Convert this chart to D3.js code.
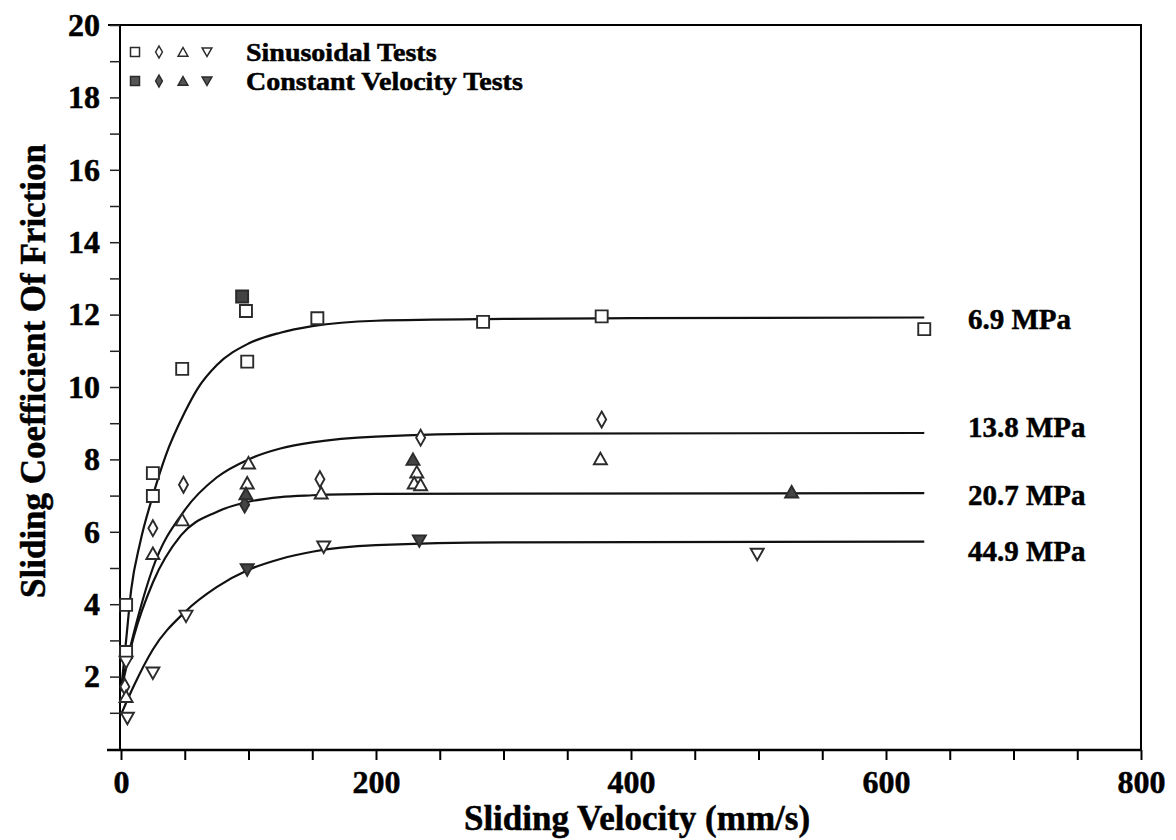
<!DOCTYPE html>
<html>
<head>
<meta charset="utf-8">
<script src="https://cdn.jsdelivr.net/npm/d3@7"></script>
<style>
  body { margin: 0; background: #fff; }
  text { font-family: "Liberation Serif", "Times New Roman", serif; font-weight: bold; fill: #000; stroke: #000; stroke-width: 0.5px; }
</style>
</head>
<body>
<svg id="chart" width="1176" height="840"></svg>
<script>
// fitted curves as [velocity, friction]
var curve69 = [[0,1.6],[4,3.0],[8,4.4],[15,5.7],[25,7.0],[35,8.1],[50,9.3],[60,9.95],[75,10.6],[100,11.2],[125,11.5],[150,11.68],[200,11.83],[300,11.88],[400,11.9],[630,11.92]];
var curve138 = [[0,1.7],[10,3.2],[25,5.0],[50,6.6],[75,7.5],[100,8.0],[125,8.3],[150,8.47],[200,8.63],[300,8.71],[630,8.73]];
var curve207 = [[0,1.6],[10,3.1],[25,4.6],[47,5.9],[75,6.55],[100,6.83],[125,6.96],[150,7.01],[200,7.05],[630,7.07]];
var curve449 = [[0,0.95],[10,1.74],[25,2.75],[50,3.78],[75,4.47],[100,4.95],[125,5.25],[150,5.45],[200,5.63],[300,5.71],[630,5.73]];
var curves = [curve69, curve138, curve207, curve449];
var pressureLabels = ["6.9 MPa", "13.8 MPa", "20.7 MPa", "44.9 MPa"];

// sinusoidal tests (open symbols)
var sinSquare = [[4,3.98],[4,2.68],[25,7.62],[25,6.99],[48,10.5],[98,12.1],[99,10.7],[154,11.9],[284,11.8],[377,11.95],[630,11.6]];
var sinDiamond = [[3,1.72],[25,6.1],[49,7.3],[156,7.45],[235,8.6],[377,9.1]];
var sinTriUp = [[4,1.45],[25,5.4],[48,6.33],[100,7.9],[99,7.35],[157,7.07],[232,7.65],[230,7.35],[235,7.3],[376,8.02]];
var sinTriDown = [[4,2.4],[5,0.85],[25,2.1],[51,3.67],[159,5.58],[499,5.38]];

// constant velocity tests (filled symbols)
var cvSquare = [[95,12.5]];
var cvDiamond = [[97,6.75]];
var cvTriUp = [[98,7.05],[229,8.0],[526,7.1]];
var cvTriDown = [[99,4.95],[234,5.75]];

var xTicks = [0, 200, 400, 600, 800];
var yTicks = [2, 4, 6, 8, 10, 12, 14, 16, 18, 20];
var legendLabels = ["Sinusoidal Tests", "Constant Velocity Tests"];

var svg = d3.select("#chart");
var x = d3.scaleLinear().domain([0, 800]).range([121, 1141]);
var y = d3.scaleLinear().domain([0, 20]).range([749, 25]);

var ink = "#2b2b2b";

// marker paths, centred on 0,0
var shapes = {
  square: "M-6,-6H6V6H-6Z",
  diamond: "M0,-8L4.5,0L0,8L-4.5,0Z",
  up: "M0,-6L6.5,5.5H-6.5Z",
  down: "M0,6L6.5,-5.5H-6.5Z"
};

// frame: top and right edges
svg.append("path")
  .attr("d", "M108,25H1141V750")
  .attr("fill", "none")
  .attr("stroke", "#000")
  .attr("stroke-width", 2);

var xAxis = svg.append("g")
  .attr("transform", "translate(0," + 750 + ")")
  .call(d3.axisBottom(x).tickValues(d3.range(0, 801, 50)).tickSize(10).tickPadding(7)
    .tickFormat(function (d) { return xTicks.indexOf(d) > -1 ? d : ""; }));
xAxis.select(".domain").attr("d", "M107,0H1141").attr("stroke-width", 2.5);
xAxis.selectAll(".tick line").attr("stroke-width", 2);
xAxis.selectAll(".tick text").attr("font-size", 32).attr("dy", "0.8em");

var yAxis = svg.append("g")
  .attr("transform", "translate(120,0)")
  .call(d3.axisLeft(y).tickValues(d3.range(1, 21)).tickSize(10).tickPadding(10)
    .tickFormat(function (d) { return yTicks.indexOf(d) > -1 ? d : ""; }));
yAxis.select(".domain").attr("d", "M0,25V750").attr("stroke-width", 2);
yAxis.selectAll(".tick line").attr("stroke-width", 1.5).attr("stroke", "#222");
yAxis.selectAll(".tick text").attr("font-size", 32);

// curves
var line = d3.line()
  .x(function (d) { return x(d[0]); })
  .y(function (d) { return y(d[1]); })
  .curve(d3.curveMonotoneX);

svg.selectAll(".fit")
  .data(curves)
  .enter().append("path")
  .attr("class", "fit")
  .attr("d", line)
  .attr("fill", "none")
  .attr("stroke", "#111")
  .attr("stroke-width", 2.2);

svg.selectAll(".plabel")
  .data(curves)
  .enter().append("text")
  .attr("class", "plabel")
  .attr("x", 968)
  .attr("y", function (d, i) { return y(d[d.length - 1][1]) + [12, 4, 12, 19][i]; })
  .attr("font-size", 29)
  .text(function (d, i) { return pressureLabels[i]; });

// points
function drawPoints(data, shape, filled) {
  svg.append("g").selectAll("path")
    .data(data)
    .enter().append("path")
    .attr("d", shapes[shape])
    .attr("transform", function (d) { return "translate(" + x(d[0]) + "," + y(d[1]) + ")"; })
    .attr("fill", filled ? "#444" : "#fff")
    .attr("stroke", ink)
    .attr("stroke-width", 1.9);
}

drawPoints(sinSquare, "square", false);
drawPoints(sinDiamond, "diamond", false);
drawPoints(sinTriUp, "up", false);
drawPoints(sinTriDown, "down", false);
drawPoints(cvSquare, "square", true);
drawPoints(cvDiamond, "diamond", true);
drawPoints(cvTriUp, "up", true);
drawPoints(cvTriDown, "down", true);

// legend
var legendShapes = ["square", "diamond", "up", "down"];
legendLabels.forEach(function (label, row) {
  var g = svg.append("g").attr("transform", "translate(0," + (52 + row * 29) + ")");
  legendShapes.forEach(function (s, i) {
    g.append("path")
      .attr("d", shapes[s])
      .attr("transform", "translate(" + (135 + i * 24) + ",0) scale(0.75)")
      .attr("fill", row ? "#555" : "#fff")
      .attr("stroke", ink)
      .attr("stroke-width", 2);
  });
  g.append("text")
    .attr("transform", "translate(246,9) scale(1.12,1)")
    .attr("font-size", 25)
    .text(label);
});

// axis titles
svg.append("text")
  .attr("x", 637)
  .attr("y", 830)
  .attr("text-anchor", "middle")
  .attr("font-size", 35)
  .text("Sliding Velocity (mm/s)");

svg.append("text")
  .attr("transform", "translate(45,371) rotate(-90)")
  .attr("text-anchor", "middle")
  .attr("font-size", 35)
  .text("Sliding Coefficient Of Friction");
</script>
</body>
</html>
